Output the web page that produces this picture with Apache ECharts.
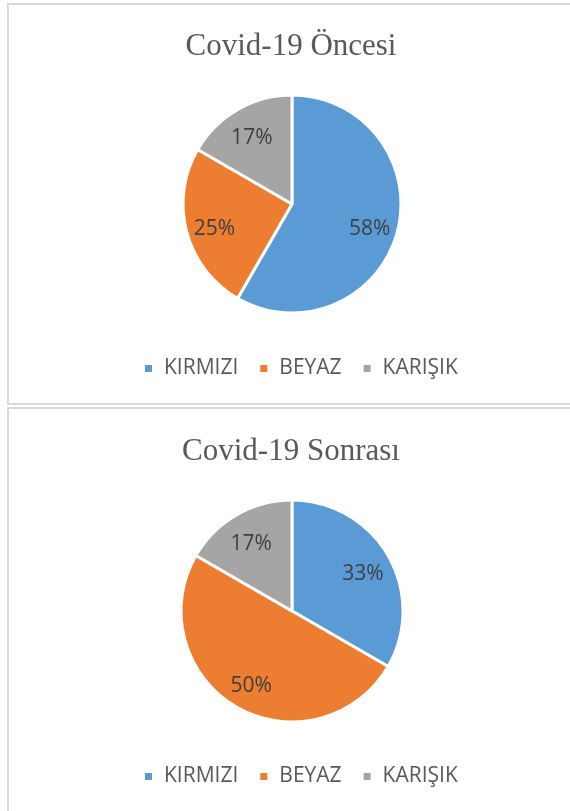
<!DOCTYPE html>
<html>
<head>
<meta charset="utf-8">
<script src="https://cdn.jsdelivr.net/npm/echarts@6/dist/echarts.min.js"></script>
<style>
  html, body { margin: 0; padding: 0; background: #fff; }
  #main { width: 570px; height: 811px; }
</style>
</head>
<body>
<div id="main"></div>
<script>
// slice counts (7/12, 3/12, 2/12 etc.)
var categories = ['KIRMIZI', 'BEYAZ', 'KARIŞIK'];
var oncesi = [7, 3, 2];
var sonrasi = [4, 6, 2];
var titles = ['Covid-19 Öncesi', 'Covid-19 Sonrası'];
var colors = ['#5B9BD5', '#ED7D31', '#A5A5A5'];

var toData = function (vals) {
    return categories.map(function (c, i) { return {name: c, value: vals[i]}; });
};

var pieSeries = function (vals, center, r) {
    return [{
        type: 'pie',
        center: center,
        radius: r,
        startAngle: 90,
        silent: true,
        itemStyle: {borderColor: '#fff', borderWidth: 3},
        label: {show: false},
        labelLine: {show: false},
        data: toData(vals)
    }, {
        // label carrier: a ring so 'inside' labels sit further out, like Excel
        type: 'pie',
        center: [center[0], center[1] + 4],
        radius: [r * 0.42, r],
        startAngle: 90,
        silent: true,
        itemStyle: {color: 'rgba(0,0,0,0)'},
        label: {
            show: true,
            position: 'inside',
            formatter: function (p) { return Math.round(p.percent) + '%'; },
            fontFamily: 'Open Sans',
            fontSize: 21,
            color: '#404040'
        },
        labelLine: {show: false},
        data: toData(vals)
    }];
};

var legendOf = function (top) {
    return {
        data: categories,
        top: top,
        left: 138,
        icon: 'rect',
        itemWidth: 9,
        itemHeight: 9,
        itemGap: 20,
        selectedMode: false,
        textStyle: {fontFamily: 'Open Sans', fontSize: 21, color: '#595959', padding: [0, 0, 0, 6]}
    };
};

var chart = echarts.init(document.getElementById('main'));
chart.setOption({
    animation: false,
    color: colors,
    title: [
        {text: titles[0], left: 286, textAlign: 'center', top: 26,
         textStyle: {fontFamily: 'Liberation Serif', fontSize: 31, fontWeight: 'normal', color: '#595959'}},
        {text: titles[1], left: 286, textAlign: 'center', top: 431,
         textStyle: {fontFamily: 'Liberation Serif', fontSize: 31, fontWeight: 'normal', color: '#595959'}}
    ],
    legend: [legendOf(353), legendOf(761)],
    graphic: [
        {type: 'rect', shape: {x: 8, y: 4, width: 580, height: 400},
         style: {fill: 'none', stroke: '#d9d9d9', lineWidth: 2}},
        {type: 'rect', shape: {x: 8, y: 408, width: 580, height: 420},
         style: {fill: 'none', stroke: '#d9d9d9', lineWidth: 2}}
    ],
    series: pieSeries(oncesi, [292, 204], 109).concat(pieSeries(sonrasi, [292, 611], 111))
});
</script>
</body>
</html>
